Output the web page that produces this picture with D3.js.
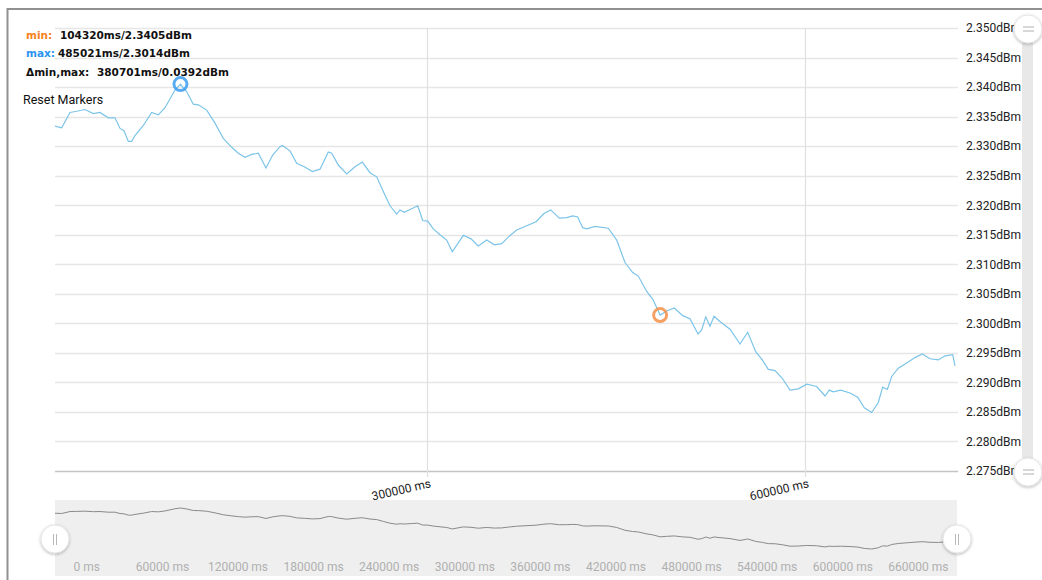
<!DOCTYPE html>
<html>
<head>
<meta charset="utf-8">
<script src="https://cdn.jsdelivr.net/npm/d3@7"></script>
<style>
body { margin: 0; background: #fff; }
svg { display: block; font-family: Roboto, "Liberation Sans", sans-serif; }
</style>
</head>
<body>
<svg id="chart"></svg>
<script>
// time (ms) and power (dBm)
const times = [4762, 10079, 16667, 21984, 28571, 35159, 40476, 47063, 52381, 56349,
  59524, 62937, 65635, 68254, 74841, 81508, 86746, 92063, 100000, 104320,
  109286, 114524, 118492, 125159, 131746, 138333, 145000, 150238, 155556, 160873,
  166111, 172222, 177540, 183333, 185159, 191270, 196587, 202619, 208968, 215079,
  221667, 224365, 229603, 236270, 242857, 248651, 254762, 260079, 265317, 270635,
  275952, 278571, 281984, 287857, 292619, 296587, 300556, 305000, 310317, 315635,
  320079, 328810, 334921, 340714, 347381, 353413, 359286, 364524, 371190, 377778,
  386508, 392857, 398175, 405000, 410873, 415635, 419603, 423571, 426746, 433333,
  443889, 450556, 457143, 463254, 467698, 474365, 479127, 485021, 490238, 496270,
  502937, 508730, 515079, 518016, 521190, 524603, 527778, 532540, 540476, 548413,
  554524, 560873, 566111, 570873, 576190, 581984, 588095, 594683, 601349, 609286,
  615873, 619286, 622460, 628333, 635714, 641825, 647063, 652937, 658175, 661667,
  665317, 668810, 674048, 680714, 687302, 693095, 699206, 705794, 711111, 717222,
  719048];
const values = [2.3334, 2.3331, 2.3357, 2.3359, 2.3362, 2.3355, 2.3357, 2.3348, 2.3348, 2.3330,
  2.3326, 2.3308, 2.3308, 2.3318, 2.3335, 2.3357, 2.3353, 2.3365, 2.3395, 2.3405,
  2.3392, 2.3371, 2.3370, 2.3361, 2.3339, 2.3313, 2.3298, 2.3288, 2.3281, 2.3286,
  2.3288, 2.3263, 2.3285, 2.3299, 2.3301, 2.3292, 2.3271, 2.3265, 2.3257, 2.3261,
  2.3290, 2.3288, 2.3268, 2.3253, 2.3265, 2.3273, 2.3255, 2.3248, 2.3223, 2.3199,
  2.3185, 2.3192, 2.3188, 2.3194, 2.3199, 2.3174, 2.3173, 2.3160, 2.3150, 2.3141,
  2.3121, 2.3149, 2.3143, 2.3131, 2.3141, 2.3133, 2.3135, 2.3146, 2.3158, 2.3164,
  2.3172, 2.3186, 2.3192, 2.3178, 2.3179, 2.3182, 2.3180, 2.3162, 2.3160, 2.3164,
  2.3161, 2.3141, 2.3103, 2.3086, 2.3080, 2.3054, 2.3041, 2.3014, 2.3021, 2.3026,
  2.3013, 2.3008, 2.2982, 2.2989, 2.3011, 2.2995, 2.3012, 2.3003, 2.2990, 2.2965,
  2.2985, 2.2952, 2.2938, 2.2922, 2.2920, 2.2907, 2.2887, 2.2889, 2.2897, 2.2893,
  2.2877, 2.2887, 2.2884, 2.2887, 2.2882, 2.2875, 2.2857, 2.2849, 2.2866, 2.2892,
  2.2888, 2.2910, 2.2924, 2.2933, 2.2942, 2.2948, 2.2940, 2.2938, 2.2945, 2.2947,
  2.2928];

const yTicks = [2.350, 2.345, 2.340, 2.335, 2.330, 2.325, 2.320, 2.315, 2.310, 2.305,
  2.300, 2.295, 2.290, 2.285, 2.280, 2.275];
const xTicks = [300000, 600000];
const scrollTicks = [0, 60000, 120000, 180000, 240000, 300000, 360000, 420000, 480000,
  540000, 600000, 660000];

// markers: [time, value]
const minMarker = [104320, 2.3405];
const maxMarker = [485021, 2.3014];
const infoLabels = ["min:", "max:", "\u0394min,max:"];
const infoValues = ["104320ms/2.3405dBm", "485021ms/2.3014dBm", "380701ms/0.0392dBm"];

const svgWidth = 1042, svgHeight = 580;
const plot = {left: 55, right: 955, top: 28, bottom: 471};

const data = times.map((t, i) => ({t: t, v: values[i]}));

const chart = d3.select('#chart')
    .attr("width", svgWidth)
    .attr("height", svgHeight);

const defs = chart.append("defs");
const shadow = defs.append("filter").attr("id", "shadow")
    .attr("x", "-50%").attr("y", "-50%").attr("width", "200%").attr("height", "200%");
shadow.append("feDropShadow").attr("dx", 0).attr("dy", 1)
    .attr("stdDeviation", 1.5).attr("flood-opacity", 0.3);

// outer frame
chart.append("rect")
    .attr("x", 7.5).attr("y", 9)
    .attr("width", 1100).attr("height", 700)
    .attr("fill", "none").attr("stroke", "#909090").attr("stroke-width", 2);

var xScale = d3.scaleLinear().domain(d3.extent(times)).range([plot.left, plot.right]);
var yScale = d3.scaleLinear().domain([2.275, 2.350]).range([plot.bottom, plot.top]);

// horizontal grid + right axis
var yAxis = d3.axisRight(yScale)
    .tickValues(yTicks)
    .tickSize(0)
    .tickPadding(10)
    .tickFormat(d => d.toFixed(3) + "dBm");
const yG = chart.append("g")
    .attr("transform", `translate(${plot.right + 1},0)`)
    .call(yAxis);
yG.select(".domain").remove();
yG.selectAll("text").attr("font-size", 12).attr("fill", "#222")
    .attr("font-family", "Roboto, sans-serif");

chart.append("g").selectAll("line")
    .data(yTicks)
    .join("line")
    .attr("x1", plot.left).attr("x2", plot.right + 3)
    .attr("y1", d => Math.round(yScale(d)) + 0.5)
    .attr("y2", d => Math.round(yScale(d)) + 0.5)
    .attr("stroke", d => d === 2.275 ? "#c4c4c4" : "#e6e6e6")
    .attr("stroke-width", d => d === 2.275 ? 1.5 : 1.3);

// vertical grid + bottom axis
var xAxis = d3.axisBottom(xScale)
    .tickValues(xTicks)
    .tickSize(plot.bottom - plot.top + 6)
    .tickFormat(d => d + " ms");
const xG = chart.append("g")
    .attr("transform", `translate(0,${plot.top})`)
    .call(xAxis);
xG.select(".domain").remove();
xG.selectAll(".tick line").attr("stroke", "#e0e0e0").attr("stroke-width", 1.2);
xG.selectAll("text")
    .attr("font-size", 12).attr("fill", "#222")
    .attr("text-anchor", "end")
    .attr("font-family", "Roboto, sans-serif")
    .attr("y", 0).attr("dy", 0)
    .attr("transform", `translate(4,${plot.bottom - plot.top + 16}) rotate(-13)`);

// series line
var valueline = d3.line()
    .x(d => xScale(d.t))
    .y(d => yScale(d.v));
chart.append("path")
    .datum(data)
    .attr("d", valueline)
    .attr("fill", "none")
    .attr("stroke", "#7cc4e8")
    .attr("stroke-width", 1.2);

// markers
chart.append("circle")
    .attr("cx", xScale(minMarker[0])).attr("cy", yScale(minMarker[1]))
    .attr("r", 6.5).attr("fill", "none")
    .attr("stroke", "#3c9cf0").attr("stroke-opacity", 0.85).attr("stroke-width", 3);
chart.append("circle")
    .attr("cx", xScale(maxMarker[0])).attr("cy", yScale(maxMarker[1]))
    .attr("r", 6.5).attr("fill", "none")
    .attr("stroke", "#f59048").attr("stroke-opacity", 0.85).attr("stroke-width", 3);

// info text
const infoColors = ["#f7821b", "#2c95f0", "#111"];
const infoValueX = [60, 58, 97];
const infoY = [39, 57, 76];
infoLabels.forEach((lbl, i) => {
    const t = chart.append("text")
        .attr("y", infoY[i])
        .attr("font-family", "'DejaVu Sans', Verdana, sans-serif")
        .attr("font-weight", "bold")
        .attr("font-size", 10.5);
    t.append("tspan").attr("x", 26).attr("fill", infoColors[i]).text(lbl);
    t.append("tspan").attr("x", infoValueX[i]).attr("fill", "#111").text(infoValues[i]);
});
chart.append("text")
    .attr("x", 23).attr("y", 104)
    .attr("font-size", 12.5).attr("fill", "#111")
    .text("Reset Markers");

// vertical scrollbar
chart.append("rect")
    .attr("x", 1022).attr("y", plot.top)
    .attr("width", 11).attr("height", plot.bottom - plot.top)
    .attr("fill", "#e8e8e8");
[plot.top + 1, plot.bottom + 1].forEach(cy => {
    chart.append("circle").attr("cx", 1028).attr("cy", cy).attr("r", 14)
        .attr("fill", "#fff").attr("stroke", "#e4e4e4").attr("filter", "url(#shadow)");
    [-2, 2].forEach(o => chart.append("line")
        .attr("x1", 1023).attr("x2", 1034)
        .attr("y1", cy + o).attr("y2", cy + o)
        .attr("stroke", "#b0b0b0").attr("stroke-width", 1));
});

// horizontal scrollbar
const sb = {top: 500, bottom: 576};
chart.append("rect")
    .attr("x", plot.left).attr("y", sb.top)
    .attr("width", plot.right - plot.left + 2).attr("height", sb.bottom - sb.top)
    .attr("fill", "#efefef");
var ySb = d3.scaleLinear().domain(d3.extent(values)).range([549, 508]);
chart.append("path")
    .datum(data)
    .attr("d", d3.line().x(d => xScale(d.t)).y(d => ySb(d.v)))
    .attr("fill", "none")
    .attr("stroke", "#8a8a8a")
    .attr("stroke-width", 1);
chart.append("g").selectAll("text")
    .data(scrollTicks)
    .join("text")
    .attr("x", d => xScale(d + 30000))
    .attr("y", 571)
    .attr("text-anchor", "middle")
    .attr("font-size", 12)
    .attr("fill", "#b0b0b0")
    .text(d => d + " ms");
[plot.left, plot.right + 2].forEach(cx => {
    chart.append("circle").attr("cx", cx).attr("cy", 539).attr("r", 14)
        .attr("fill", "#fff").attr("stroke", "#e4e4e4").attr("filter", "url(#shadow)");
    [-1.5, 1.5].forEach(o => chart.append("line")
        .attr("x1", cx + o).attr("x2", cx + o)
        .attr("y1", 534).attr("y2", 545)
        .attr("stroke", "#b8b8b8").attr("stroke-width", 1));
});
</script>
</body>
</html>
